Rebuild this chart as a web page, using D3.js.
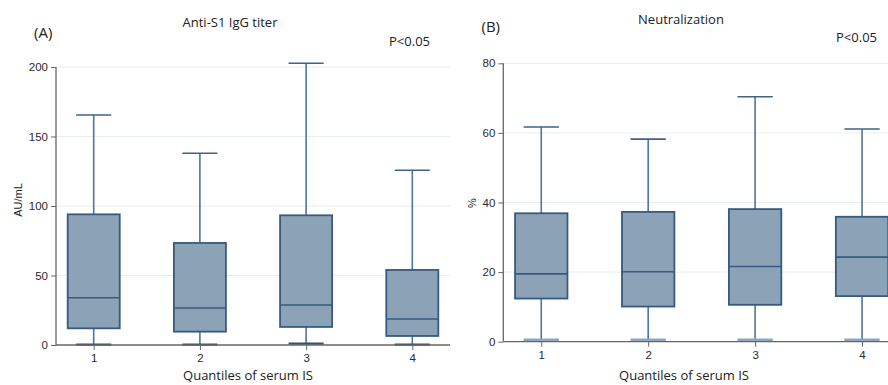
<!DOCTYPE html>
<html><head><meta charset="utf-8">
<script src="https://cdn.jsdelivr.net/npm/d3@7"></script>
<style>body{margin:0;background:#fff}svg{display:block}</style>
</head><body>
<svg id="c" width="888" height="385"></svg>
<script>
const quantiles = [1, 2, 3, 4];
// Panel A: Anti-S1 IgG titer (AU/mL)
const iggMin    = [0.3, 0.3, 1.0, 0.3];
const iggQ1     = [12, 9.6, 13, 6.5];
const iggMedian = [34, 26.6, 28.8, 18.7];
const iggQ3     = [94, 73.4, 93.3, 54];
const iggMax    = [165.5, 138, 202.7, 125.7];
const iggTicks  = [0, 50, 100, 150, 200];
// Panel B: Neutralization (%)
const neuMin    = [0.5, 0.5, 0.5, 0.5];
const neuQ1     = [12.4, 10.1, 10.6, 13.1];
const neuMedian = [19.5, 20.1, 21.6, 24.3];
const neuQ3     = [36.9, 37.3, 38.1, 35.9];
const neuMax    = [61.7, 58.2, 70.4, 61.1];
const neuTicks  = [0, 20, 40, 60, 80];

const svg = d3.select("#c");
const FILL = "#8ca3b7", STROKE = "#375a7e", GRID = "#e7eef2";
const titleFont = "'Open Sans', 'Liberation Sans', sans-serif";
const tickFont = "'Liberation Sans', Arial, sans-serif";

function panel(cfg) {
  const g = svg.append("g");
  const x = d3.scaleLinear().domain([0.645, 4.355]).range([cfg.x0, cfg.x1]);
  const y = d3.scaleLinear().domain([0, cfg.ymax]).range([cfg.y0, cfg.y1]);
  const unit = x(1) - x(0);
  const bw = 0.49 * unit, cw = 0.33 * unit;

  g.selectAll(".grid").data(cfg.ticks.slice(1)).join("line")
    .attr("x1", cfg.x0).attr("x2", cfg.x1)
    .attr("y1", d => y(d)).attr("y2", d => y(d))
    .attr("stroke", GRID).attr("stroke-width", 1);

  const data = quantiles.map((q, i) => ({q, min: cfg.min[i], q1: cfg.q1[i], med: cfg.med[i], q3: cfg.q3[i], max: cfg.max[i]}));
  const b = g.selectAll(".box").data(data).join("g");
  b.append("line").attr("x1", d => x(d.q)).attr("x2", d => x(d.q))
    .attr("y1", d => y(d.q3)).attr("y2", d => y(d.max))
    .attr("stroke", "#50759a").attr("stroke-width", 1.6);
  b.append("line").attr("x1", d => x(d.q)).attr("x2", d => x(d.q))
    .attr("y1", d => y(d.q1)).attr("y2", d => y(d.min))
    .attr("stroke", "#50759a").attr("stroke-width", 1.6);
  b.append("line").attr("x1", d => x(d.q) - cw / 2).attr("x2", d => x(d.q) + cw / 2)
    .attr("y1", d => y(d.max)).attr("y2", d => y(d.max))
    .attr("stroke", "#3f6388").attr("stroke-width", 1.6);
  b.append("line").attr("x1", d => x(d.q) - cw / 2).attr("x2", d => x(d.q) + cw / 2)
    .attr("y1", d => y(d.min)).attr("y2", d => y(d.min))
    .attr("stroke", cfg.lowCap).attr("stroke-width", cfg.lowCapW);
  b.append("rect").attr("x", d => x(d.q) - bw / 2).attr("width", bw)
    .attr("y", d => y(d.q3)).attr("height", d => y(d.q1) - y(d.q3))
    .attr("fill", FILL).attr("stroke", STROKE).attr("stroke-width", 1.8);
  b.append("line").attr("x1", d => x(d.q) - bw / 2).attr("x2", d => x(d.q) + bw / 2)
    .attr("y1", d => y(d.med)).attr("y2", d => y(d.med))
    .attr("stroke", STROKE).attr("stroke-width", 1.6);

  const ya = g.append("g").attr("transform", `translate(${cfg.x0},0)`)
    .call(d3.axisLeft(y).tickValues(cfg.ticks).tickSize(5).tickPadding(3));
  const xa = g.append("g").attr("transform", `translate(0,${cfg.y0})`)
    .call(d3.axisBottom(x).tickValues(quantiles).tickSize(5).tickPadding(4).tickFormat(d3.format("d")));
  [ya, xa].forEach(a => {
    a.select(".domain").attr("stroke", "#666").attr("stroke-width", 1.3);
    a.selectAll(".tick line").attr("stroke", "#666");
    a.selectAll(".tick text").attr("fill", "#2a2a2a").style("font-family", tickFont).style("font-size", "11.5px");
  });
  ya.select(".domain").attr("d", `M0,${cfg.y1}V${cfg.y0}`);
  xa.select(".domain").attr("d", `M${cfg.x0},0H${cfg.x1}`);

  const t = (txt, px, py, size, anchor, fam, rot) => {
    const e = g.append("text").text(txt).attr("x", px).attr("y", py)
      .attr("text-anchor", anchor).attr("fill", "#222")
      .style("font-family", fam).style("font-size", size + "px");
    if (rot) e.attr("transform", `rotate(-90,${px},${py})`);
    return e;
  };
  t(cfg.label, cfg.labelX, cfg.labelY, 15, "start", titleFont);
  t(cfg.title, cfg.titleX, cfg.titleY, 13, "middle", titleFont);
  t("P<0.05", cfg.pX, cfg.pY, 13, "end", titleFont);
  t(cfg.ylab, cfg.ylabX, cfg.ylabY, 11, "middle", tickFont, true);
  t("Quantiles of serum IS", cfg.xlabX, cfg.xlabY, 13, "middle", titleFont);
}

panel({x0: 56, x1: 450, y0: 345, y1: 67, ymax: 200, ticks: iggTicks,
  min: iggMin, q1: iggQ1, med: iggMedian, q3: iggQ3, max: iggMax,
  lowCap: "#2f5276", lowCapW: 2.2,
  label: "(A)", labelX: 34, labelY: 38, title: "Anti-S1 IgG titer", titleX: 230, titleY: 27,
  pX: 430, pY: 45.5, ylab: "AU/mL", ylabX: 22, ylabY: 200, xlabX: 248, xlabY: 380});

panel({x0: 503.3, x1: 900, y0: 341.7, y1: 63.3, ymax: 80, ticks: neuTicks,
  min: neuMin, q1: neuQ1, med: neuMedian, q3: neuQ3, max: neuMax,
  lowCap: "#8ea6ba", lowCapW: 3,
  label: "(B)", labelX: 481.5, labelY: 32, title: "Neutralization", titleX: 681, titleY: 24,
  pX: 877, pY: 41.5, ylab: "%", ylabX: 476, ylabY: 203, xlabX: 684, xlabY: 379.5});
</script>
</body></html>
